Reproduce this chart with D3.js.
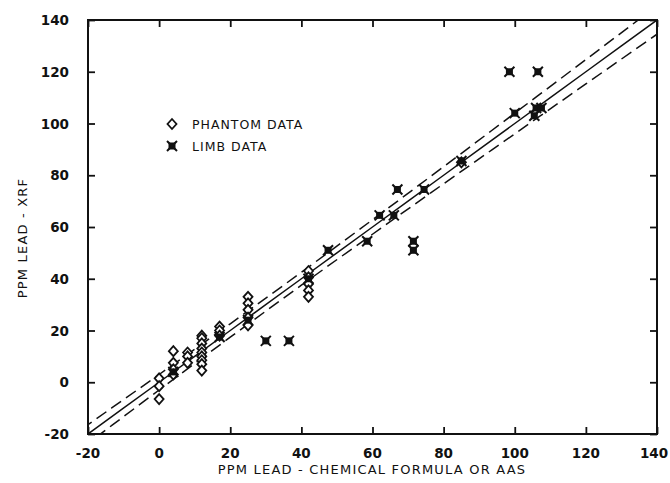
<!doctype html>
<html>
<head>
  <meta charset="utf-8">
  <title>PPM Lead XRF vs chemical</title>
  <script src="https://d3js.org/d3.v7.min.js"></script>
  <style>
    body { margin: 0; background: #fff; }
    #chart { display: block; }
    .tick-label { font-family: "DejaVu Sans", sans-serif; font-size: 13.5px; font-weight: bold; fill: #111; }
    .axis-title { font-family: "DejaVu Sans", sans-serif; font-size: 13px; letter-spacing: 1.2px; fill: #111; }
    .legend-text { font-family: "DejaVu Sans", sans-serif; font-size: 12.5px; letter-spacing: 1px; fill: #111; }
  </style>
</head>
<body>
  <svg id="chart" width="670" height="483"></svg>
  <script>
    // tick values (both axes)
    var ticks = [-20, 0, 20, 40, 60, 80, 100, 120, 140];

    // phantom data (open diamonds)
    var phantomX = [0, 0, 0,
      4, 4, 4, 4,
      8, 8, 8,
      12, 12, 12, 12, 12, 12, 12, 12, 12,
      17, 17, 17,
      25, 25, 25, 25, 25,
      42, 42, 42, 42, 42,
      85];
    var phantomY = [1.5, -1.5, -6.5,
      12, 7.5, 5, 3,
      11.5, 10, 7.5,
      18, 17, 15, 13, 11.5, 10, 8.5, 7, 4.5,
      21.5, 20, 18,
      33, 30.5, 28, 25, 22,
      43, 40.5, 38, 35.5, 33,
      85];

    // limb data (filled stars)
    var limbX = [4, 17, 25, 42, 30, 36.5, 47.5, 58.5, 62, 66, 67, 71.5, 71.5, 74.5, 85,
      98.5, 106.5, 100, 106, 105.5, 107.5];
    var limbY = [4, 17.5, 24, 40, 16, 16, 51, 54.5, 64.5, 64.5, 74.5, 54.5, 51, 74.5, 85.5,
      120, 120, 104, 106, 103, 106];

    // fit line y = x, with confidence band half-widths read at these x values
    var bandX = [-30, -20, 0, 20, 40, 60, 80, 100, 120, 140, 150];
    var bandW = [3.9, 3.6, 3.0, 2.6, 2.5, 2.8, 3.3, 4.0, 4.7, 5.5, 5.9];

    var svg = d3.select("#chart");
    var padLeft = 88, padRight = 657, padTop = 20, padBottom = 434;

    var x = d3.scaleLinear().domain([-20, 140]).range([padLeft, padRight]);
    var y = d3.scaleLinear().domain([-20, 140]).range([padBottom, padTop]);

    svg.append("clipPath").attr("id", "clip")
      .append("rect")
      .attr("x", padLeft).attr("y", padTop)
      .attr("width", padRight - padLeft).attr("height", padBottom - padTop);

    var line = d3.line()
      .curve(d3.curveMonotoneX)
      .x(function(d) { return x(d[0]); })
      .y(function(d) { return y(d[1]); });

    var fitLines = [
      { pts: bandX.map(function(v) { return [v, v]; }), dash: null },
      { pts: bandX.map(function(v, i) { return [v, v + bandW[i]]; }), dash: "12,6" },
      { pts: bandX.map(function(v, i) { return [v, v - bandW[i]]; }), dash: "12,6" }
    ];

    svg.append("g").attr("clip-path", "url(#clip)")
      .selectAll("path")
      .data(fitLines)
      .enter()
      .append("path")
      .attr("d", function(d) { return line(d.pts); })
      .attr("fill", "none")
      .attr("stroke", "#111")
      .attr("stroke-width", 1.5)
      .attr("stroke-dasharray", function(d) { return d.dash; });

    // axes, ticks inward on all sides
    svg.append("g")
      .attr("transform", "translate(0," + padBottom + ")")
      .call(d3.axisBottom(x).tickValues(ticks).tickSize(-7).tickFormat(""));
    svg.append("g")
      .attr("transform", "translate(0," + padTop + ")")
      .call(d3.axisTop(x).tickValues(ticks).tickSize(-7).tickFormat(""));
    svg.append("g")
      .attr("transform", "translate(" + padLeft + ",0)")
      .call(d3.axisLeft(y).tickValues(ticks).tickSize(-7).tickFormat(""));
    svg.append("g")
      .attr("transform", "translate(" + padRight + ",0)")
      .call(d3.axisRight(y).tickValues(ticks).tickSize(-7).tickFormat(""));

    svg.selectAll(".domain").remove();
    svg.selectAll(".tick line").attr("stroke", "#111").attr("stroke-width", 1.8);

    svg.append("rect")
      .attr("x", padLeft).attr("y", padTop)
      .attr("width", padRight - padLeft).attr("height", padBottom - padTop)
      .attr("fill", "none")
      .attr("stroke", "#111")
      .attr("stroke-width", 2);

    // tick labels
    svg.selectAll(".xlab")
      .data(ticks)
      .enter()
      .append("text")
      .attr("class", "tick-label")
      .attr("x", function(d) { return d === 140 ? x(d) - 3 : x(d); })
      .attr("y", 458)
      .attr("text-anchor", "middle")
      .text(function(d) { return d; });

    svg.selectAll(".ylab")
      .data(ticks)
      .enter()
      .append("text")
      .attr("class", "tick-label")
      .attr("x", 69)
      .attr("y", function(d) { return y(d) + 5; })
      .attr("text-anchor", "end")
      .text(function(d) { return d; });

    // axis titles
    svg.append("text")
      .attr("class", "axis-title")
      .attr("x", 372).attr("y", 474)
      .attr("text-anchor", "middle")
      .text("PPM LEAD - CHEMICAL FORMULA OR AAS");

    svg.append("text")
      .attr("class", "axis-title")
      .attr("transform", "translate(27,238)rotate(-90)")
      .attr("text-anchor", "middle")
      .text("PPM LEAD - XRF");

    // markers
    var diamond = "M0,-5L4.5,0L0,5L-4.5,0Z";
    function drawStar(g) {
      g.append("rect").attr("x", -3.5).attr("y", -3.5).attr("width", 7).attr("height", 7).attr("fill", "#111");
      g.append("path").attr("d", "M-5,-5L5,5M-5,5L5,-5").attr("stroke", "#111").attr("stroke-width", 2);
    }

    svg.selectAll(".phantom")
      .data(d3.range(phantomX.length))
      .enter()
      .append("path")
      .attr("class", "phantom")
      .attr("d", diamond)
      .attr("transform", function(i) { return "translate(" + x(phantomX[i]) + "," + y(phantomY[i]) + ")"; })
      .attr("fill", "#fff")
      .attr("stroke", "#111")
      .attr("stroke-width", 1.8);

    svg.selectAll(".limb")
      .data(d3.range(limbX.length))
      .enter()
      .append("g")
      .attr("class", "limb")
      .attr("transform", function(i) { return "translate(" + x(limbX[i]) + "," + y(limbY[i]) + ")"; })
      .each(function() { drawStar(d3.select(this)); });

    // legend
    svg.append("path")
      .attr("d", diamond)
      .attr("transform", "translate(172,124)")
      .attr("fill", "#fff").attr("stroke", "#111").attr("stroke-width", 1.8);
    svg.append("text").attr("class", "legend-text").attr("x", 192).attr("y", 129).text("PHANTOM DATA");

    drawStar(svg.append("g").attr("transform", "translate(172,146)"));
    svg.append("text").attr("class", "legend-text").attr("x", 192).attr("y", 151).text("LIMB DATA");
  </script>
</body>
</html>
